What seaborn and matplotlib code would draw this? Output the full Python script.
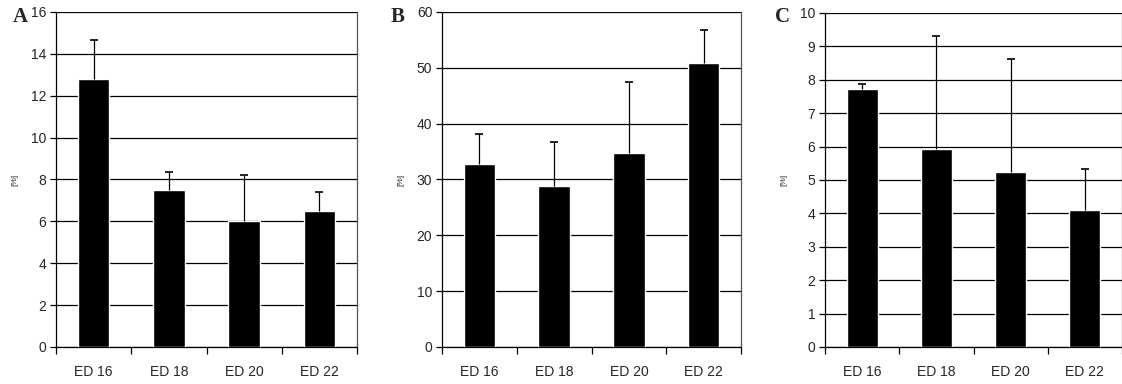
import matplotlib
matplotlib.use('Agg')
import matplotlib.pyplot as plt
import pandas as pd
import seaborn as sns

# Data
stages = ['ED 16', 'ED 18', 'ED 20', 'ED 22']
a_vals = [12.8, 7.5, 6.0, 6.5]
a_err = [1.85, 0.85, 2.2, 0.9]
b_vals = [32.8, 28.9, 34.8, 50.8]
b_err = [5.3, 7.9, 12.6, 6.0]
c_vals = [7.72, 5.92, 5.25, 4.1]
c_err = [0.15, 3.38, 3.37, 1.23]

sns.set_theme(style='white')
plt.rcParams['font.family'] = ['Liberation Sans', 'DejaVu Sans']

fig = plt.figure(figsize=(11.22, 3.84), dpi=100)

panels = [
    ('A', a_vals, a_err, 16, 2, [0.0499, 0.0964, 0.2683, 0.8724], 0.011),
    ('B', b_vals, b_err, 60, 10, [0.394, 0.0964, 0.2665, 0.8724], 0.348),
    ('C', c_vals, c_err, 10, 1, [0.7353, 0.0964, 0.2647, 0.8698], 0.691),
]

for letter, vals, err, ymax, step, rect, lx in panels:
    ax = fig.add_axes(rect)
    df = pd.DataFrame({'stage': stages, 'value': vals})
    sns.barplot(data=df, x='stage', y='value', color='black', width=0.42,
                errorbar=None, ax=ax, saturation=1, zorder=3)
    # one-sided (upper) error bars
    eb = ax.errorbar(range(len(vals)), vals, yerr=[[0] * len(vals), err], fmt='none',
                     ecolor='black', elinewidth=0.9, capsize=3, capthick=1.2, zorder=4)
    eb[1][0].set_visible(False)
    ax.set_xlim(-0.5, len(vals) - 0.5)
    ax.set_ylim(0, ymax)
    ax.set_yticks([i * step for i in range(int(ymax / step) + 1)])
    ax.yaxis.grid(True, color='black', linewidth=0.9)
    ax.set_axisbelow(True)
    ax.set_xlabel('')
    ax.set_ylabel('[%]', fontsize=6, labelpad=9)
    for s in ax.spines.values():
        s.set_color('black')
        s.set_linewidth(0.9)
    ax.spines['right'].set_color('#555555')
    ax.spines['top'].set_visible(False)
    ax.tick_params(axis='y', which='major', left=True, length=4, width=0.9,
                   color='black', labelsize=10, pad=3)
    ax.tick_params(axis='x', which='major', bottom=False, labelsize=10, pad=7)
    ax.set_xticks([i - 0.5 for i in range(len(vals) + 1)], minor=True)
    ax.tick_params(axis='x', which='minor', bottom=True, length=5, width=0.9,
                   color='black')
    fig.text(lx, 0.955, letter, fontsize=15, fontweight='bold',
             family='Liberation Serif', ha='left', va='center')

fig.savefig('out.png', dpi=100)
